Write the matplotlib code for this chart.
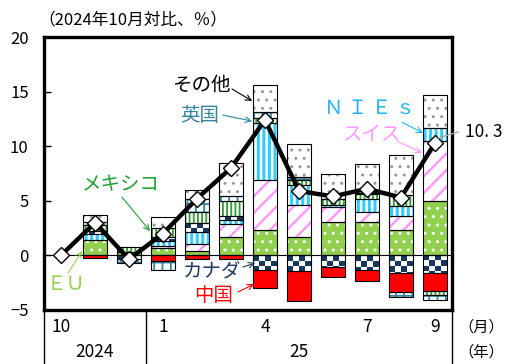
import numpy as np
import matplotlib
matplotlib.use('Agg')
import matplotlib.pyplot as plt
from matplotlib.colors import ListedColormap
from matplotlib.transforms import blended_transform_factory

plt.rcParams['font.family'] = ['Noto Sans CJK JP', 'DejaVu Sans']
plt.rcParams['hatch.linewidth'] = 1.5

# 2024/10 .. 2025/9, change vs 2024/10 (%), contributions by region
months = ['10', '11', '12', '1', '2', '3', '4', '5', '6', '7', '8', '9']
tick_idx = [0, 3, 6, 9, 11]
tick_text = ['10', '1', '4', '7', '9']

eu      = [0, 1.4, 0.35, 0.7, 0.4, 1.7, 2.3, 1.7, 3.1, 3.1, 2.3, 5.0]
swiss   = [0, 0.0, 0.0, 0.2, 0.6, 1.15, 4.6, 2.9, 1.35, 0.85, 1.3, 5.5]
nies    = [0, 0.6, 0.0, 0.4, 1.1, 0.35, 5.2, 1.85, 0.2, 1.2, 0.9, 1.2]
canada  = [0, 0.2, -0.3, 0.35, 0.9, 0.45, -1.35, -1.4, -1.05, -1.3, -1.6, -1.65]
china   = [0, -0.2, 0.0, -0.55, -0.3, -0.3, -1.65, -2.75, -0.95, -1.0, -1.75, -1.6]
mexico  = [0, 0.6, 0.4, 0.9, 1.0, 1.3, 0.5, 0.5, 0.5, 0.5, 1.0, -0.35]
uk      = [0, 0.3, -0.4, -0.75, 1.2, 0.5, 0.5, 0.2, 0.05, 0.05, -0.45, -0.45]
others  = [0, 0.6, 0.0, 0.95, 0.8, 3.0, 2.5, 3.05, 2.3, 2.7, 3.65, 3.0]
total   = [0, 3.0, -0.35, 2.0, 5.2, 8.0, 12.4, 5.9, 5.4, 6.1, 5.3, 10.3]

navy = '#17375E'
# (values, face, hatch, hatch colour, hatch width)
series = [
    (eu,     '#92D050', '..',   'white',   1.0),
    (swiss,  'white',   '//',   '#FF99FF', 1.8),
    (nies,   'white',   '|||',  '#33CCFF', 2.2),
    (canada, 'white',   None,   'white',   1.0),
    (china,  '#FF0000', None,   '#FF0000', 1.0),
    (mexico, 'white',   '||||', '#339933', 1.3),
    (uk,     'white',   '++',   '#31859C', 1.3),
    (others, 'white',   '..',   '#999999', 1.0),
]

fig = plt.figure(figsize=(5.07, 3.64), dpi=100)
ax = fig.add_axes([44 / 507, 1 - 310 / 364, 408 / 507, 273 / 364])

x = np.arange(len(months))
width = 0.68
pos = np.zeros(len(x))
neg = np.zeros(len(x))
checker = np.indices((44, 4)).sum(axis=0) % 2

for vals, face, hatch, hcol, hlw in series:
    vals = np.array(vals, dtype=float)
    keep = vals != 0
    bottom = np.where(vals >= 0, pos, neg)
    bars = ax.bar(x[keep], vals[keep], width, bottom=bottom[keep], color=face,
                  hatch=hatch, edgecolor=hcol, linewidth=0, zorder=2)
    for b in bars:
        if hasattr(b, 'set_hatch_linewidth'):
            b.set_hatch_linewidth(hlw)
    if face == 'white' and hatch is None:
        # checkerboard for Canada, clipped to each bar
        for b in bars:
            x0 = b.get_x()
            im = ax.imshow(checker, cmap=ListedColormap(['white', navy]),
                           extent=(x0, x0 + width, -6, 16), origin='lower',
                           interpolation='nearest', aspect='auto', zorder=2.2)
            im.set_clip_path(b)
    ax.bar(x[keep], vals[keep], width, bottom=bottom[keep], fill=False,
           edgecolor='black', linewidth=0.8, zorder=3)
    pos += np.where(vals > 0, vals, 0)
    neg += np.where(vals < 0, vals, 0)

ax.axhline(0, color='black', lw=0.8, zorder=2.5)
ax.plot(x, total, color='black', lw=3.2, marker='D', ms=8.5, mfc='white',
        mec='black', mew=1, zorder=5)

ax.set_xlim(-0.5, 11.5)
ax.set_ylim(-5, 20)
ax.set_yticks([-5, 0, 5, 10, 15, 20])
ax.set_yticklabels(['\u22125', '0', '5', '10', '15', '20'])
ax.tick_params(axis='y', direction='in', length=5, width=1, pad=11, labelsize=12)
ax.set_xticks([])
for s in ax.spines.values():
    s.set_linewidth(2.4)

# month / year labels under the axis
tr = blended_transform_factory(ax.transData, ax.transAxes)
for i, t in zip(tick_idx, tick_text):
    ax.text(i, -0.062, t, transform=tr, ha='center', va='center', fontsize=12.5)
ax.text(1, -0.154, '2024', transform=tr, ha='center', va='center', fontsize=12.5)
ax.text(7, -0.154, '25', transform=tr, ha='center', va='center', fontsize=12.5)
for xs in [-0.5, 2.5, 11.5]:
    ax.plot([xs, xs], [0, -0.2], transform=tr, color='black', lw=1, clip_on=False)
fig.text(481 / 507, 1 - 327 / 364, '（月）', ha='center', va='center', fontsize=11)
fig.text(481 / 507, 1 - 352 / 364, '（年）', ha='center', va='center', fontsize=11)
fig.text(38 / 507, 1 - 20 / 364, '（2024年10月対比、％）', ha='left', va='center', fontsize=12)

# region labels with arrows
labels = [
    ('その他', 'black', (4.12, 15.6), (5.03, 15.24), (5.62, 14.14)),
    ('英国', '#31859C', (4.09, 12.85), (4.76, 12.85), (5.62, 12.3)),
    ('Ｎ Ｉ Ｅ ｓ', '#1EB4F0', (9.09, 13.5), (10.03, 12.2), (10.65, 11.2)),
    ('スイス', '#FF99FF', (9.12, 11.11), (9.88, 10.47), (10.62, 9.38)),
    ('メキシコ', '#22A033', (1.76, 6.45), (1.79, 5.35), (2.62, 2.23)),
    ('ＥＵ', '#92D050', (0.15, -2.7), (0.21, -1.61), (0.62, 0.4)),
    ('カナダ', '#1F3864', (4.44, -1.43), (5.35, -1.06), (5.71, -0.7)),
    ('中国', '#FF0000', (4.5, -3.7), (5.21, -3.35), (5.68, -2.62)),
]
for text, col, tpos, a0, a1 in labels:
    ax.text(tpos[0], tpos[1], text, color=col, fontsize=14, ha='center',
            va='center', zorder=6)
    ax.annotate('', xy=a1, xytext=a0, zorder=6,
                arrowprops=dict(arrowstyle='->', color=col, lw=0.8,
                                shrinkA=0, shrinkB=0))

ax.plot([11.09, 11.68], [10.75, 11.3], color='#A6A6A6', lw=1, clip_on=False, zorder=6)
ax.text(11.88, 11.3, '10. 3', fontsize=12.5, ha='left', va='center', clip_on=False)

fig.savefig('out.png', dpi=100)
